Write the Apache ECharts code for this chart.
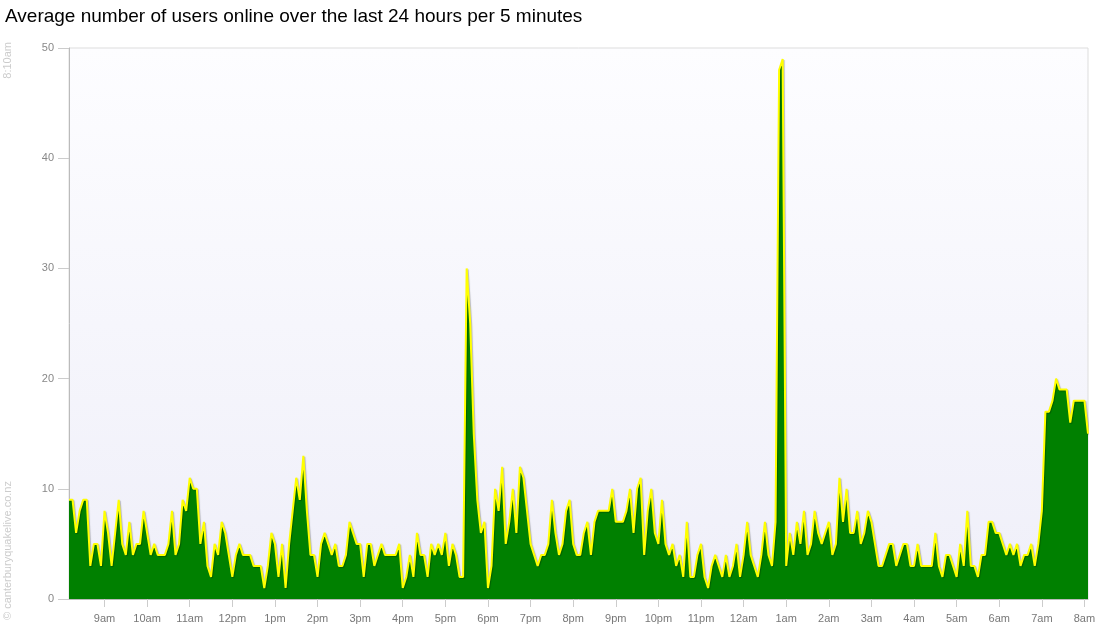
<!DOCTYPE html>
<html>
<head>
<meta charset="utf-8">
<script src="https://cdn.jsdelivr.net/npm/echarts@6/dist/echarts.min.js"></script>
<style>
  html, body { margin: 0; padding: 0; background: #fff; }
  #chart { width: 1100px; height: 640px; }
</style>
</head>
<body>
<div id="chart"></div>
<script>
// users online, one value per 5 minutes starting at 8:10am
const usersA = [9, 9, 6, 8, 9, 9, 3, 5, 5, 3, 8, 6, 3, 6, 9, 5, 4, 7, 4, 5, 5, 8, 6, 4, 5, 4, 4, 4]
const usersB = [5, 8, 4, 5, 9, 8, 11, 10, 10, 5, 7, 3, 2, 5, 4, 7, 6, 4, 2, 4, 5, 4, 4, 4, 3, 3, 3, 1, 3, 6]
const usersC = [5, 2, 5, 1, 5, 8, 11, 9, 13, 8, 4, 4, 2, 5, 6, 5, 4, 5, 3, 3, 4, 7, 6, 5, 5, 2, 5, 5]
const usersD = [3, 4, 5, 4, 4, 4, 4, 5, 1, 2, 4, 2, 6, 4, 4, 2, 5, 4, 5, 4, 6, 3, 5, 4, 2, 2]
const usersE = [30, 25, 15, 9, 6, 7, 1, 3, 10, 8, 12, 5, 7, 10, 6, 12, 11, 8, 5, 4, 3, 4, 4, 5, 9, 6, 4, 5, 8]
const usersF = [9, 5, 4, 4, 6, 7, 4, 7, 8, 8, 8, 8, 10, 7, 7, 7, 8, 10, 6, 10, 11, 4, 8, 10, 6, 5, 9, 5, 4]
const usersG = [5, 3, 4, 2, 7, 2, 2, 4, 5, 2, 1, 3, 4, 3, 2, 4, 2, 3, 5, 2, 4, 7, 4, 3, 2, 4, 7, 4]
const usersH = [3, 7, 48, 49, 3, 6, 4, 7, 5, 8, 4, 5, 8, 6, 5, 6, 7, 4, 5, 11, 7, 10, 6, 6, 8, 5, 6, 8]
const usersI = [7, 5, 3, 3, 4, 5, 5, 3, 4, 5, 5, 3, 3, 5, 3, 3, 3, 3, 6, 3, 2, 4, 4, 3, 2, 5, 3]
const usersJ = [8, 3, 3, 2, 4, 4, 7, 7, 6, 6, 5, 4, 5, 4, 5, 3, 4, 4, 5, 3, 5, 8, 17, 17, 18, 20, 19, 19, 19, 16, 18, 18, 18, 18, 15]

const users = [].concat(usersA, usersB, usersC, usersD, usersE, usersF, usersG, usersH, usersI, usersJ)

const titleText = "Average number of users online over the last 24 hours per 5 minutes"
const startLabel = "8:10am"
const creditText = "© canterburyquakelive.co.nz"
const yTicks = [0, 10, 20, 30, 40, 50]

// 8:10am + 5 min steps
function timeLabel(i) {
    const t = (8 * 60 + 10 + 5 * i) % 1440
    const h = Math.floor(t / 60), m = t % 60
    const h12 = h % 12 || 12
    const ap = h < 12 ? "am" : "pm"
    return m ? h12 + ":" + String(m).padStart(2, "0") + ap : h12 + ap
}
const times = users.map((v, i) => timeLabel(i))
const isHour = (idx, val) => val.indexOf(":") < 0

const chart = echarts.init(document.getElementById("chart"))
const option = {
    animation: false,
    textStyle: { fontFamily: "Liberation Sans, Arial, sans-serif" },
    title: {
        text: titleText,
        left: 0,
        top: 2,
        textStyle: { fontSize: 19, fontWeight: "normal", color: "#000" }
    },
    grid: {
        left: 69,
        right: 12,
        top: 48,
        bottom: 41,
        show: true,
        borderColor: "#ddd",
        borderWidth: 1,
        backgroundColor: {
            type: "linear", x: 0, y: 0, x2: 0, y2: 1,
            colorStops: [
                { offset: 0, color: "#fdfdff" },
                { offset: 1, color: "#efeff9" }
            ]
        }
    },
    xAxis: {
        type: "category",
        data: times,
        boundaryGap: false,
        axisLine: { lineStyle: { color: "#bbb" } },
        axisTick: { interval: isHour, length: 8, lineStyle: { color: "#ccc" } },
        axisLabel: { interval: isHour, color: "#777", fontSize: 11, margin: 14 },
        splitLine: { show: false }
    },
    yAxis: {
        type: "value",
        min: yTicks[0],
        max: yTicks[yTicks.length - 1],
        interval: 10,
        axisLine: { show: true, lineStyle: { color: "#bbb" } },
        axisTick: { show: true, length: 11, lineStyle: { color: "#ccc" } },
        axisLabel: { color: "#888", fontSize: 11, margin: 15 },
        splitLine: { show: false }
    },
    graphic: [
        {
            type: "text", x: 8, y: 42, rotation: Math.PI / 2,
            style: { text: startLabel, fill: "#ccc", fontSize: 11, align: "right", verticalAlign: "middle", fontFamily: "Liberation Sans, Arial" }
        },
        {
            type: "text", x: 8, y: 620, rotation: Math.PI / 2,
            style: { text: creditText, fill: "#ccc", fontSize: 11, align: "left", verticalAlign: "middle", fontFamily: "Liberation Sans, Arial" }
        }
    ],
    series: [{
        type: "line",
        data: users,
        symbol: "none",
        lineStyle: {
            color: "#ffff00", width: 2,
            shadowColor: "rgba(0,0,0,0.25)", shadowBlur: 1, shadowOffsetX: 1, shadowOffsetY: 1
        },
        areaStyle: { color: "#008000", opacity: 1 }
    }]
}
chart.setOption(option)
</script>
</body>
</html>
